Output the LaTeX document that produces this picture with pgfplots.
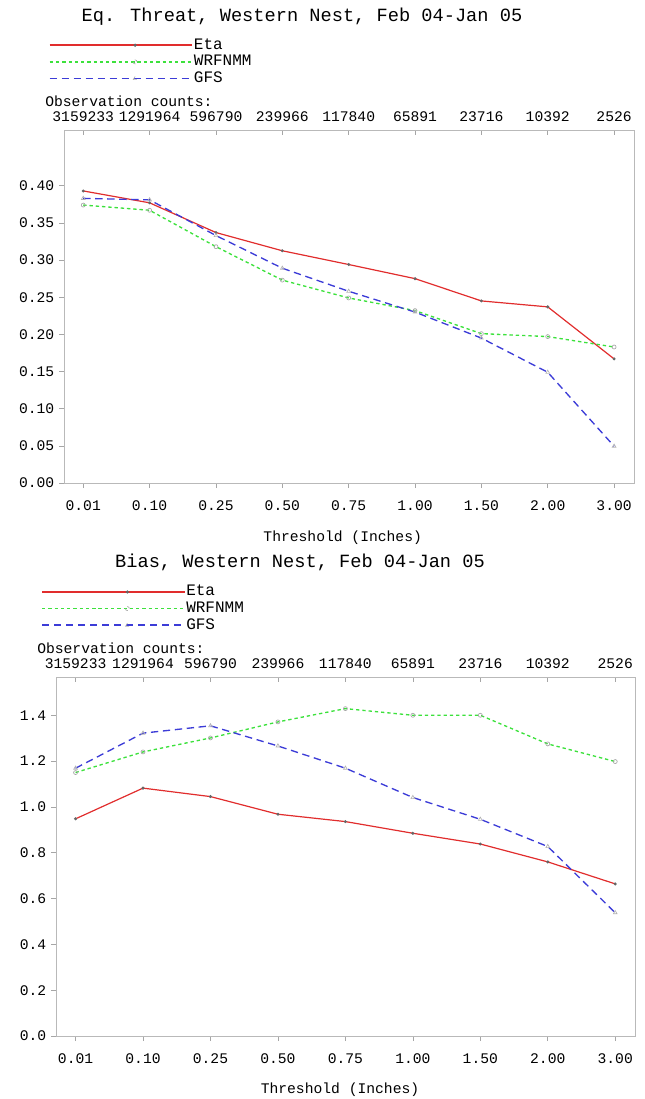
\documentclass[border=0pt]{standalone}
\usepackage{fontspec}
\setmainfont{Liberation Mono}
\usepackage{pgfplots}
\usepackage{pgfplotstable}
\pgfplotsset{compat=1.18}
\definecolor{etared}{RGB}{225,45,45}
\definecolor{wrfgreen}{RGB}{60,225,60}
\definecolor{gfsblue}{RGB}{60,60,215}

\pgfplotstableread{
x eta wrf gfs
0 0.393 0.374 0.383
1 0.377 0.367 0.381
2 0.337 0.318 0.333
3 0.3125 0.273 0.289
4 0.294 0.249 0.258
5 0.275 0.232 0.230
6 0.245 0.201 0.195
7 0.237 0.197 0.149
8 0.167 0.183 0.0495
}\threat

\pgfplotstableread{
x eta wrf gfs
0 0.948 1.150 1.169
1 1.082 1.240 1.322
2 1.045 1.301 1.354
3 0.968 1.371 1.266
4 0.936 1.429 1.169
5 0.885 1.400 1.041
6 0.838 1.400 0.946
7 0.760 1.275 0.827
8 0.664 1.198 0.538
}\bias

\pgfplotsset{
  base/.style={
    scale only axis, anchor=south west,
    xmin=-0.29, xmax=8.3,
    xtick={0,...,8},
    axis line style={gray!55},
    tick style={gray!70, line width=0.5pt},
    major tick length=3.75pt,
    ticklabel style={font=\fontsize{11}{11}\selectfont},
  },
  mainax/.style={base,
    xticklabels={0.01,0.10,0.25,0.50,0.75,1.00,1.50,2.00,3.00},
    xtick pos=left, ytick pos=left, tick align=outside,
    xticklabel style={yshift=-6pt},
    yticklabel style={xshift=0pt},
    scaled y ticks=false,
    /pgf/number format/assume math mode=true,
    /pgf/number format/fixed,
    /pgf/number format/fixed zerofill,
    legend cell align=left,
    legend style={anchor=north west, draw=none, fill=none, inner sep=0pt,
      font=\fontsize{12}{12}\selectfont, row sep=0.5pt,
      nodes={inner sep=0.5pt, text height=8.5pt, text depth=2.5pt}},
  },
  countax/.style={base,
    ymin=0, ymax=1,
    axis x line*=top, axis y line=none,
    tick align=inside,
    xticklabels={3159233,1291964,596790,239966,117840,65891,23716,10392,2526},
    xticklabel style={yshift=2.5pt},
  },
  etaL/.style={legend image code/.code={%
      \draw[etared, line width=1.3pt] (0pt,0pt) -- (107pt,0pt);
      \fill[gray!80!black] (64pt,0pt) circle (0.7pt);}},
  wrfL/.style={legend image code/.code={%
      \draw[wrfgreen, line width=1.3pt, dash pattern=on 2.5pt off 2.2pt] (0pt,0pt) -- (107pt,0pt);
      \draw[gray!70, line width=0.5pt] (64pt,0pt) circle (1.5pt);}},
  gfsL/.style={legend image code/.code={%
      \draw[gfsblue, line width=1.3pt, dash pattern=on 5.5pt off 3.5pt] (0pt,0pt) -- (107pt,0pt);
      \draw[gray!60, line width=0.5pt] (64pt,1.6pt) -- (62.6pt,-0.8pt) -- (65.4pt,-0.8pt) -- cycle;}},
}

\begin{document}
\begin{tikzpicture}
\useasboundingbox (0pt,0pt) rectangle (483.75pt,-824.25pt);

% ---------- top chart ----------
\begin{axis}[mainax,
  at={(48pt,-362.25pt)}, width=427.5pt, height=264.75pt,
  ymin=0, ymax=0.475,
  ytick={0,0.05,0.10,0.15,0.20,0.25,0.30,0.35,0.40},
  /pgf/number format/precision=2,
  legend style={at={(-0.027,1.2635)}},
]
\addplot[etaL, color=etared, line width=0.9pt, mark=*, mark size=0.6pt, mark options={solid, fill=gray!80!black, draw=gray!80!black}] table[x=x,y=eta] {\threat};
\addlegendentry{Eta}
\addplot[wrfL, color=wrfgreen, line width=1pt, dash pattern=on 2.5pt off 2.2pt, mark=o, mark size=1.5pt, mark options={solid, draw=gray!70, line width=0.5pt}] table[x=x,y=wrf] {\threat};
\addlegendentry{WRFNMM}
\addplot[gfsL, color=gfsblue, line width=1pt, dash pattern=on 5.5pt off 3.5pt, mark=triangle, mark size=1.6pt, mark options={solid, draw=gray!60, line width=0.5pt}] table[x=x,y=gfs] {\threat};
\addlegendentry{GFS}
\end{axis}
\begin{axis}[countax,
  at={(48pt,-362.25pt)}, width=427.5pt, height=264.75pt]
\addplot[draw=none] coordinates {(0,0.5)};
\end{axis}
\node[font=\fontsize{14}{14}\selectfont] at (226.5pt,-12.75pt) {Eq. Threat, Western Nest, Feb 04-Jan 05};
\node[anchor=west, inner sep=0pt, font=\fontsize{11}{11}\selectfont] at (33.75pt,-76.3pt) {Observation counts:};
\node[font=\fontsize{11}{11}\selectfont] at (257pt,-403.5pt) {Threshold (Inches)};

% ---------- bottom chart ----------
\begin{axis}[mainax,
  at={(42pt,-777pt)}, width=434.6pt, height=269.25pt,
  ymin=0, ymax=1.567,
  ytick={0,0.2,0.4,0.6,0.8,1.0,1.2,1.4},
  /pgf/number format/precision=1,
  legend style={at={(-0.026,1.26)}},
]
\addplot[etaL, color=etared, line width=0.9pt, mark=*, mark size=0.6pt, mark options={solid, fill=gray!80!black, draw=gray!80!black}] table[x=x,y=eta] {\bias};
\addlegendentry{Eta}
\addplot[wrfL, color=wrfgreen, line width=1pt, dash pattern=on 2.5pt off 2.2pt, mark=o, mark size=1.5pt, mark options={solid, draw=gray!70, line width=0.5pt}] table[x=x,y=wrf] {\bias};
\addlegendentry{WRFNMM}
\addplot[gfsL, color=gfsblue, line width=1pt, dash pattern=on 5.5pt off 3.5pt, mark=triangle, mark size=1.6pt, mark options={solid, draw=gray!60, line width=0.5pt}] table[x=x,y=gfs] {\bias};
\addlegendentry{GFS}
\end{axis}
\begin{axis}[countax,
  at={(42pt,-777pt)}, width=434.6pt, height=269.25pt]
\addplot[draw=none] coordinates {(0,0.5)};
\end{axis}
\node[font=\fontsize{14}{14}\selectfont] at (225pt,-421.5pt) {Bias, Western Nest, Feb 04-Jan 05};
\node[anchor=west, inner sep=0pt, font=\fontsize{11}{11}\selectfont] at (27.75pt,-486pt) {Observation counts:};
\node[font=\fontsize{11}{11}\selectfont] at (255pt,-817.5pt) {Threshold (Inches)};
\end{tikzpicture}
\end{document}
